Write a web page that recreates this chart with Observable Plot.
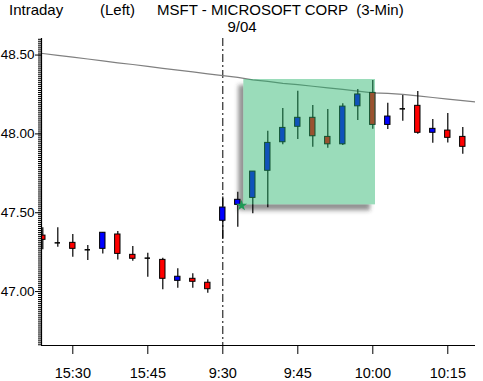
<!DOCTYPE html>
<html>
<head>
<meta charset="utf-8">
<script src="https://cdn.jsdelivr.net/npm/d3@7"></script>
<script src="https://cdn.jsdelivr.net/npm/@observablehq/plot@0.6"></script>
<style>
  html, body { margin: 0; padding: 0; background: #fff; overflow: hidden; }
  #wrap { width: 483px; height: 381px; position: relative; }
  #title { position: relative; width: 483px; height: 36px; font-family: "Liberation Sans", Arial, sans-serif; font-size: 15px; line-height: 15px; color: #000; }
  #title span { position: absolute; white-space: pre; }
  #chart svg { display: block; }
</style>
</head>
<body>
<div id="wrap">
  <div id="title">
    <span style="left:9px; top:2px;">Intraday</span>
    <span style="left:100px; top:2px;">(Left)</span>
    <span style="left:157px; top:2px;">MSFT - MICROSOFT CORP  (3-Min)</span>
    <span style="left:242px; top:19px; transform:translateX(-50%);">9/04</span>
  </div>
  <div id="chart"></div>
</div>
<script>
// Bar times (3-minute bars), previous session close then 9/04 open
const times = ["15:24","15:27","15:30","15:33","15:36","15:39","15:42","15:45","15:48","15:51","15:54","15:57",
               "9:30","9:33","9:36","9:39","9:42","9:45","9:48","9:51","9:54","9:57","10:00","10:03","10:06","10:09","10:12","10:15","10:18"];
const opens  = [47.355,47.309,47.309,47.265,47.271,47.362,47.233,47.212,47.201,47.068,47.081,47.056,
                47.449,47.550,47.594,47.766,47.947,48.045,48.102,47.981,47.934,48.175,48.260,48.057,48.159,48.178,48.007,48.021,47.981];
const highs  = [47.404,47.404,47.362,47.292,47.375,47.381,47.286,47.243,47.211,47.144,47.113,47.075,
                47.600,47.630,47.761,48.017,48.161,48.270,48.180,48.154,48.191,48.281,48.338,48.194,48.243,48.269,48.091,48.129,48.040];
const lows   = [47.265,47.281,47.218,47.197,47.239,47.201,47.192,47.091,47.011,47.021,47.021,46.990,
                47.330,47.408,47.493,47.531,47.931,47.964,47.915,47.909,47.926,48.085,48.029,48.028,48.080,47.998,47.941,47.943,47.871];
const closes = [47.328,47.309,47.271,47.265,47.373,47.239,47.208,47.212,47.081,47.094,47.062,47.015,
                47.533,47.582,47.761,47.943,48.038,48.102,47.985,47.934,48.173,48.250,48.057,48.110,48.159,48.007,48.032,47.975,47.918];
// Position of the first bar relative to the 9:30 open bar
const firstBarPos = -12;

// Moving average line (gray), one value per bar slot from one slot before the first bar to one after the last
const maFirstPos = -13;
const maValues = [48.522,48.510,48.498,48.487,48.475,48.463,48.451,48.440,48.428,48.416,48.404,48.393,48.381,
                  48.370,48.358,48.343,48.333,48.320,48.312,48.302,48.292,48.282,48.271,48.260,48.257,48.251,48.241,48.231,48.221,48.211,48.201];

// Highlight box (bar positions and prices)
const boxX = [1.4, 10.18];
const boxY = [47.55, 48.345];
const markerX = [1.25];
const markerY = [47.546];

// Axis ticks
const yMajorTicks = [47.0, 47.5, 48.0, 48.5];
const xTickPos = [-10, -5, 0, 5, 10, 15];
const xTickLabels = ["15:30", "15:45", "9:30", "9:45", "10:00", "10:15"];
const sessionOpenPos = [0];

const bars = times.map((t, k) => ({t, i: firstBarPos + k, o: opens[k], h: highs[k], l: lows[k], c: closes[k]}));
const ma = maValues.map((v, k) => ({i: maFirstPos + k, v}));
const box = [{x1: boxX[0], x2: boxX[1], y1: boxY[0], y2: boxY[1]}];
const marker = markerX.map((x, k) => ({x, y: markerY[k]}));

const xDomain = [-12.087, 16.847];
const yDomain = [46.658, 48.605];
const yMinorTicks = d3.range(Math.ceil(yDomain[0] / 0.0125), Math.floor(yDomain[1] / 0.0125) + 1).map(k => +(k * 0.0125).toFixed(4));

const hw = 0.18;
const up = bars.filter(d => d.c > d.o);
const down = bars.filter(d => d.c < d.o);
const doji = bars.filter(d => d.c === d.o);

const chart = Plot.plot({
  width: 483,
  height: 345,
  marginTop: 2,
  marginBottom: 36,
  marginLeft: 41,
  marginRight: 8,
  style: {fontFamily: '"Liberation Sans", Arial, sans-serif', fontSize: "14px", background: "#fff", color: "#000"},
  x: {domain: xDomain, axis: null},
  y: {domain: yDomain, axis: null},
  marks: [
    // shadow of the highlight box
    Plot.rect(box, {x1: "x1", x2: "x2", y1: "y1", y2: "y2", fill: "#3a3a3a", fillOpacity: 0.55, dx: -5, dy: 6}),
    Plot.rect(box, {x1: "x1", x2: "x2", y1: "y1", y2: "y2", fill: "#ffffff"}),
    Plot.ruleX(sessionOpenPos, {stroke: "#000", strokeWidth: 1, strokeDasharray: "8,3,2,3"}),
    Plot.line(ma, {x: "i", y: "v", stroke: "#808080", strokeWidth: 1.2, clip: true}),
    // wicks
    Plot.ruleX(bars, {x: "i", y1: "l", y2: "h", stroke: "#000", strokeWidth: 1.2}),
    // bodies
    Plot.rect(up, {x1: d => d.i - hw, x2: d => d.i + hw, y1: "o", y2: "c", fill: "#0000ff", stroke: "#000", strokeWidth: 1, clip: true}),
    Plot.rect(down, {x1: d => d.i - hw, x2: d => d.i + hw, y1: "o", y2: "c", fill: "#ff0000", stroke: "#000", strokeWidth: 1, clip: true}),
    Plot.ruleY(doji, {x1: d => d.i - hw, x2: d => d.i + hw, y: "o", stroke: "#000", strokeWidth: 1.5}),
    // highlight overlay
    Plot.rect(box, {x1: "x1", x2: "x2", y1: "y1", y2: "y2", fill: "rgb(35,178,104)", fillOpacity: 0.46}),
    Plot.dot(marker, {x: "x", y: "y", symbol: "star", r: 3.5, fill: "#1f9a55"}),
    // axes
    Plot.ruleY(yMinorTicks, {x1: xDomain[0] - 0.2, x2: xDomain[0], stroke: "#000", strokeWidth: 1}),
    Plot.axisY(yMajorTicks, {tickSize: 6, tickPadding: 1, tickFormat: d3.format(".2f"), fontSize: 13.5}),
    Plot.axisX(xTickPos, {tickSize: 9, tickPadding: 13, tickFormat: (d) => xTickLabels[xTickPos.indexOf(d)], fontSize: 14.5}),
    Plot.ruleX([xDomain[0]], {stroke: "#000", strokeWidth: 1.2}),
    Plot.ruleY([yDomain[0]], {stroke: "#000", strokeWidth: 1.2})
  ]
});

// blur the shadow rectangle
const ns = "http://www.w3.org/2000/svg";
const defs = document.createElementNS(ns, "defs");
const filter = document.createElementNS(ns, "filter");
filter.setAttribute("id", "boxblur");
filter.setAttribute("x", "-20%"); filter.setAttribute("y", "-20%");
filter.setAttribute("width", "140%"); filter.setAttribute("height", "140%");
const blur = document.createElementNS(ns, "feGaussianBlur");
blur.setAttribute("stdDeviation", "2");
filter.appendChild(blur);
defs.appendChild(filter);
chart.insertBefore(defs, chart.firstChild);
chart.querySelectorAll('g[fill="#3a3a3a"]').forEach(g => g.setAttribute("filter", "url(#boxblur)"));

document.getElementById("chart").appendChild(chart);
</script>
</body>
</html>
